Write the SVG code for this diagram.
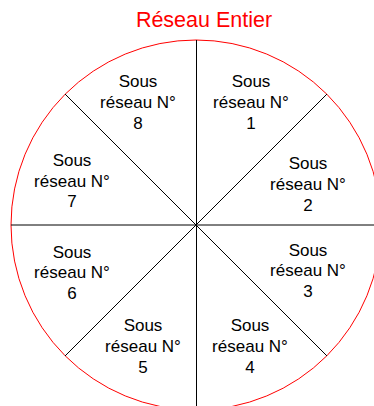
<svg xmlns="http://www.w3.org/2000/svg" width="374" height="406" viewBox="0 0 374 406">
<style>
.lbl{font-family:"Liberation Sans",Arial,sans-serif;font-size:17px;fill:#000;text-anchor:middle}
.title{font-family:"Liberation Sans",Arial,sans-serif;font-size:21.5px;fill:#ff0000;text-anchor:middle}
.ln{stroke:#000;stroke-width:1;fill:none}
</style>
<rect width="374" height="406" fill="#fff"/>
<text class="title" x="204" y="27">Réseau Entier</text>
<circle cx="196" cy="225" r="185" fill="none" stroke="#ff0000" stroke-width="1"/>
<g id="connectors">
<line class="ln" x1="196.5" y1="40" x2="196.5" y2="410"/>
<line class="ln" x1="11" y1="225" x2="381" y2="225"/>
<line class="ln" x1="65" y1="94" x2="327" y2="356"/>
<line class="ln" x1="327" y1="94" x2="65" y2="356"/>
</g>
<g id="s8"><text class="lbl" x="138" y="87">Sous</text><text class="lbl" x="138" y="108">réseau N°</text><text class="lbl" x="138" y="129">8</text></g>
<g id="s1"><text class="lbl" x="251" y="87">Sous</text><text class="lbl" x="251" y="108">réseau N°</text><text class="lbl" x="251" y="129">1</text></g>
<g id="s2"><text class="lbl" x="308" y="169">Sous</text><text class="lbl" x="308" y="190">réseau N°</text><text class="lbl" x="308" y="211">2</text></g>
<g id="s7"><text class="lbl" x="72" y="166">Sous</text><text class="lbl" x="72" y="187">réseau N°</text><text class="lbl" x="72" y="207">7</text></g>
<g id="s6"><text class="lbl" x="72" y="258">Sous</text><text class="lbl" x="72" y="278">réseau N°</text><text class="lbl" x="72" y="299">6</text></g>
<g id="s3"><text class="lbl" x="308" y="256">Sous</text><text class="lbl" x="308" y="276">réseau N°</text><text class="lbl" x="308" y="297">3</text></g>
<g id="s5"><text class="lbl" x="143" y="331">Sous</text><text class="lbl" x="143" y="352">réseau N°</text><text class="lbl" x="143" y="373">5</text></g>
<g id="s4"><text class="lbl" x="250" y="331">Sous</text><text class="lbl" x="250" y="352">réseau N°</text><text class="lbl" x="250" y="373">4</text></g>
</svg>
